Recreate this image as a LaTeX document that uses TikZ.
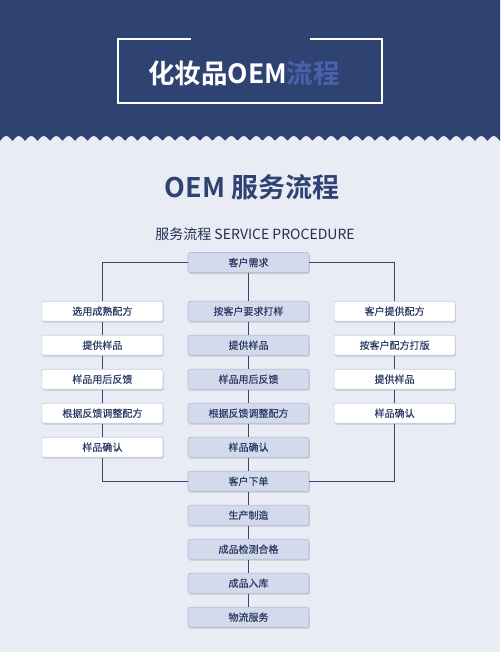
\documentclass[tikz,border=0pt]{standalone}
\usepackage{fontspec}
\setmainfont{Noto Sans CJK SC}[BoldFont={Noto Sans CJK SC Bold}]
\newfontfamily\boxfont{Noto Sans CJK SC}[FakeBold=0.5]
\usepackage{tikz}
\usetikzlibrary{shadows}

\definecolor{bandblue}{HTML}{2F4373}
\definecolor{paleback}{HTML}{E9ECF4}
\definecolor{titleblue}{HTML}{4A62AE}
\definecolor{inkblue}{HTML}{2C3B66}
\definecolor{boxfill}{HTML}{D3DAEC}
\definecolor{boxline}{HTML}{B6C0DA}
\definecolor{lineblue}{HTML}{3C486A}

\begin{document}
\begin{tikzpicture}[x=1pt,y=-1pt,
  every matrix/.style={ampersand replacement=\&,column sep=24.5pt,row sep=13.4pt,inner sep=0pt},
  mainbox/.style={rounded corners=2pt,fill=boxfill,draw=boxline,line width=0.6pt,
    minimum width=121pt,minimum height=20pt,inner sep=0pt,text=inkblue,
    font=\boxfont\fontsize{10}{12}\selectfont,
    drop shadow={shadow xshift=0.8pt,shadow yshift=-1.4pt,fill=black!45,opacity=0.35}},
  sidebox/.style={mainbox,fill=white,draw=boxline!80},
  link/.style={draw=lineblue,line width=1.1pt},
  every node/.style={align=center}]

% Background and header band
\useasboundingbox (0,0) rectangle (500,652);
\fill[paleback] (0,0) rectangle (500,652);
\fill[bandblue] (0,0) -- (500,0) -- plot[domain=500:0,samples=400] (\x,{141-5*abs(sin(\x*14.4))}) -- cycle;
\draw[white,line width=1.5pt] (191,39) -- (118,39) -- (118,103) -- (382,103) -- (382,39) -- (310,39);
\node[text=white,font=\bfseries\fontsize{26.5}{28}\selectfont] (banner) at (244,73) {化妆品OEM\textcolor{titleblue}{流程}};

% Headings
\node[text=bandblue,font=\bfseries\fontsize{27}{30}\selectfont] (heading) at (252,187) {OEM 服务流程};
\node[text=inkblue!80!black,font=\fontsize{14}{16}\selectfont] (subheading) at (255,234) {服务流程 SERVICE PROCEDURE};

% Position the boxes using a matrix layout
\matrix[anchor=north] (steps) at (248.5,252) {
    \& \node[mainbox] (demand) {客户需求}; \& \\[14.7pt]
    \node[sidebox] (matureFormula) {选用成熟配方};
    \& \node[mainbox] (customSample) {按客户要求打样};
    \& \node[sidebox] (ownFormula) {客户提供配方}; \\
    \node[sidebox] (supplyLeft) {提供样品};
    \& \node[mainbox] (supplyMid) {提供样品};
    \& \node[sidebox] (proof) {按客户配方打版}; \\
    \node[sidebox] (feedbackLeft) {样品用后反馈};
    \& \node[mainbox] (feedbackMid) {样品用后反馈};
    \& \node[sidebox] (supplyRight) {提供样品}; \\
    \node[sidebox] (adjustLeft) {根据反馈调整配方};
    \& \node[mainbox] (adjustMid) {根据反馈调整配方};
    \& \node[sidebox] (confirmRight) {样品确认}; \\
    \node[sidebox] (confirmLeft) {样品确认};
    \& \node[mainbox] (confirmMid) {样品确认}; \& \\
    \& \node[mainbox] (order) {客户下单}; \& \\
    \& \node[mainbox] (produce) {生产制造}; \& \\
    \& \node[mainbox] (inspect) {成品检测合格}; \& \\
    \& \node[mainbox] (stock) {成品入库}; \& \\
    \& \node[mainbox] (logistics) {物流服务}; \& \\
  };

% Connect the boxes
\draw[link] (demand) -| (matureFormula);
\draw[link] (demand) -| (ownFormula);
\draw[link] (confirmLeft) |- (order);
\draw[link] (confirmRight) |- (order);
\foreach \a/\b in {demand/customSample,customSample/supplyMid,supplyMid/feedbackMid,
    feedbackMid/adjustMid,adjustMid/confirmMid,confirmMid/order,order/produce,
    produce/inspect,inspect/stock,stock/logistics,
    matureFormula/supplyLeft,supplyLeft/feedbackLeft,feedbackLeft/adjustLeft,adjustLeft/confirmLeft,
    ownFormula/proof,proof/supplyRight,supplyRight/confirmRight}
  \draw[link] (\a) -- (\b);

\end{tikzpicture}
\end{document}
